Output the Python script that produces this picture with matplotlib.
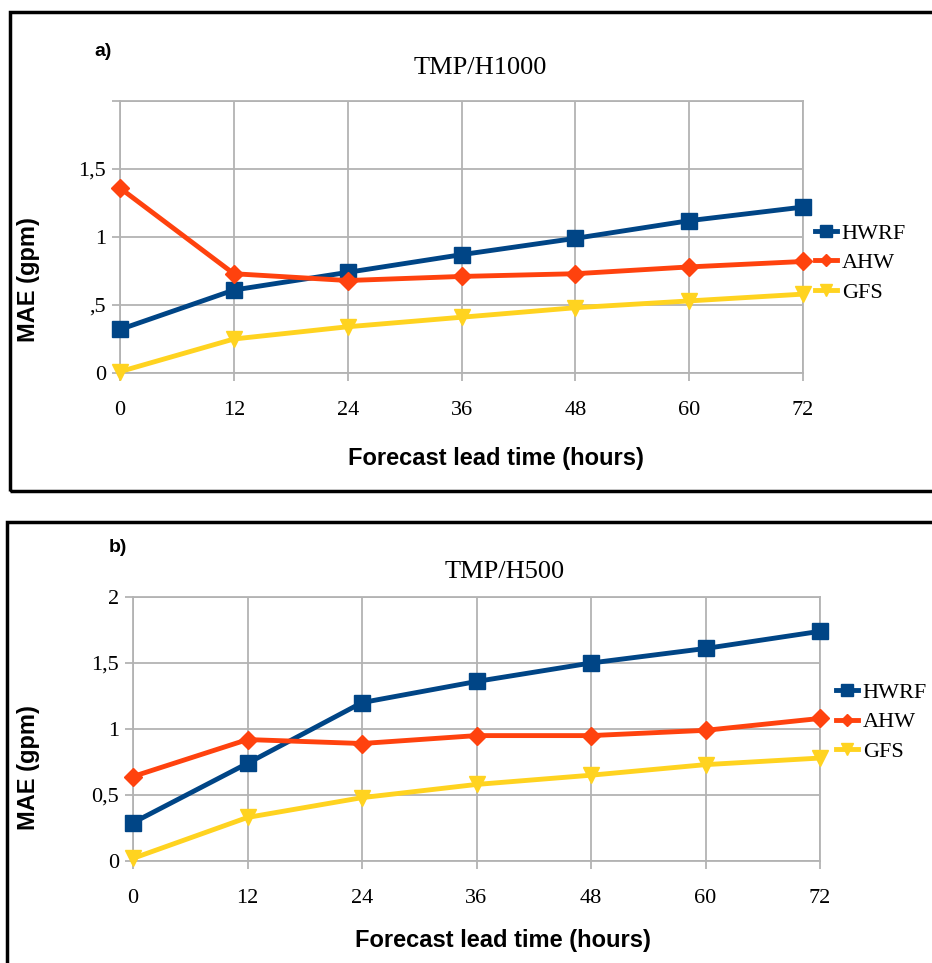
import matplotlib
matplotlib.use("Agg")
import matplotlib.pyplot as plt
from matplotlib.patches import Rectangle

# forecast lead times (hours)
lead = [0, 12, 24, 36, 48, 60, 72]

# panel a) TMP/H1000
hwrf_a = [0.32, 0.61, 0.74, 0.87, 0.99, 1.12, 1.22]
ahw_a = [1.36, 0.73, 0.68, 0.71, 0.73, 0.78, 0.82]
gfs_a = [0.01, 0.25, 0.34, 0.41, 0.48, 0.53, 0.58]

# panel b) TMP/H500
hwrf_b = [0.29, 0.74, 1.20, 1.36, 1.50, 1.61, 1.74]
ahw_b = [0.64, 0.92, 0.89, 0.95, 0.95, 0.99, 1.08]
gfs_b = [0.02, 0.33, 0.48, 0.58, 0.65, 0.73, 0.78]

yticks_a = [0, 0.5, 1, 1.5, 2]
ylabels_a = ["0", ",5", "1", "1,5", ""]
yticks_b = [0, 0.5, 1, 1.5, 2]
ylabels_b = ["0", "0,5", "1", "1,5", "2"]

W, H = 932, 963
c_hwrf = "#004586"
c_ahw = "#ff420e"
c_gfs = "#ffd320"
grid_c = "#b3b3b3"
serif = "Liberation Serif"
sans = "Liberation Sans"

fig = plt.figure(figsize=(W / 100, H / 100), dpi=100)


def fx(px):
    return px / W


def fy(py):
    return 1 - py / H


def panel(x0, x1, y_top, y_bot, hwrf, ahw, gfs, yt, yl, leg_x, leg_y):
    ax = fig.add_axes([fx(x0), fy(y_bot), fx(x1) - fx(x0), fy(y_top) - fy(y_bot)])
    ax.plot(lead, hwrf, color=c_hwrf, lw=3.5, marker="s", ms=12, label="HWRF", clip_on=False, zorder=5)
    ax.plot(lead, ahw, color=c_ahw, lw=3.5, marker="D", ms=9, label="AHW", clip_on=False, zorder=5)
    ax.plot(lead, gfs, color=c_gfs, lw=3.5, marker="v", ms=12, label="GFS", clip_on=False, zorder=5)
    ax.set_xlim(0, 72)
    ax.set_ylim(0, 2)
    ax.set_xticks(lead)
    ax.set_xticklabels([str(v) for v in lead], fontfamily=serif, fontsize=16)
    ax.set_yticks(yt)
    ax.set_yticklabels(yl, fontfamily=serif, fontsize=16)
    ax.grid(True, color=grid_c, lw=1.3)
    ax.set_axisbelow(True)
    for s in ax.spines.values():
        s.set_color(grid_c)
        s.set_linewidth(1.3)
    ax.tick_params(axis="x", length=6, pad=14, color=grid_c, width=1.3)
    ax.tick_params(axis="y", length=6, pad=4, color=grid_c, width=1.3)
    ax.legend(loc="center left", bbox_to_anchor=(fx(leg_x), fy(leg_y)),
              bbox_transform=fig.transFigure, frameon=False, borderpad=0,
              borderaxespad=0, handlelength=1.0, handletextpad=0.2,
              labelspacing=0.4, markerscale=0.7,
              prop={"family": serif, "size": 16})
    return ax


panel(120, 803, 101, 373, hwrf_a, ahw_a, gfs_a, yticks_a, ylabels_a, 815, 263)
panel(133, 820, 597, 861, hwrf_b, ahw_b, gfs_b, yticks_b, ylabels_b, 836, 722)

# titles and labels
fig.text(fx(480), fy(68), "TMP/H1000", fontfamily=serif, fontsize=19, ha="center", va="center")
fig.text(fx(505), fy(572), "TMP/H500", fontfamily=serif, fontsize=19, ha="center", va="center")
fig.text(fx(496), fy(458), "Forecast lead time (hours)", fontfamily=sans, fontweight="bold",
         fontsize=17, ha="center", va="center")
fig.text(fx(503), fy(940), "Forecast lead time (hours)", fontfamily=sans, fontweight="bold",
         fontsize=17, ha="center", va="center")
fig.text(fx(28), fy(280), "MAE (gpm)", fontfamily=sans, fontweight="bold", fontsize=17,
         ha="center", va="center", rotation=90)
fig.text(fx(28), fy(768), "MAE (gpm)", fontfamily=sans, fontweight="bold", fontsize=17,
         ha="center", va="center", rotation=90)
fig.text(fx(103), fy(52), "a)", fontfamily=sans, fontweight="bold", fontsize=14, ha="center", va="center")
fig.text(fx(118), fy(547), "b)", fontfamily=sans, fontweight="bold", fontsize=14, ha="center", va="center")

# panel frames
fig.patches.append(Rectangle((fx(10), fy(491)), 1.05, fy(12) - fy(491), fill=False,
                             edgecolor="black", lw=2.5, transform=fig.transFigure))
fig.patches.append(Rectangle((fx(7), -0.05), 1.05, fy(522) + 0.05, fill=False,
                             edgecolor="black", lw=2.5, transform=fig.transFigure))

fig.savefig("out.png", dpi=100)
